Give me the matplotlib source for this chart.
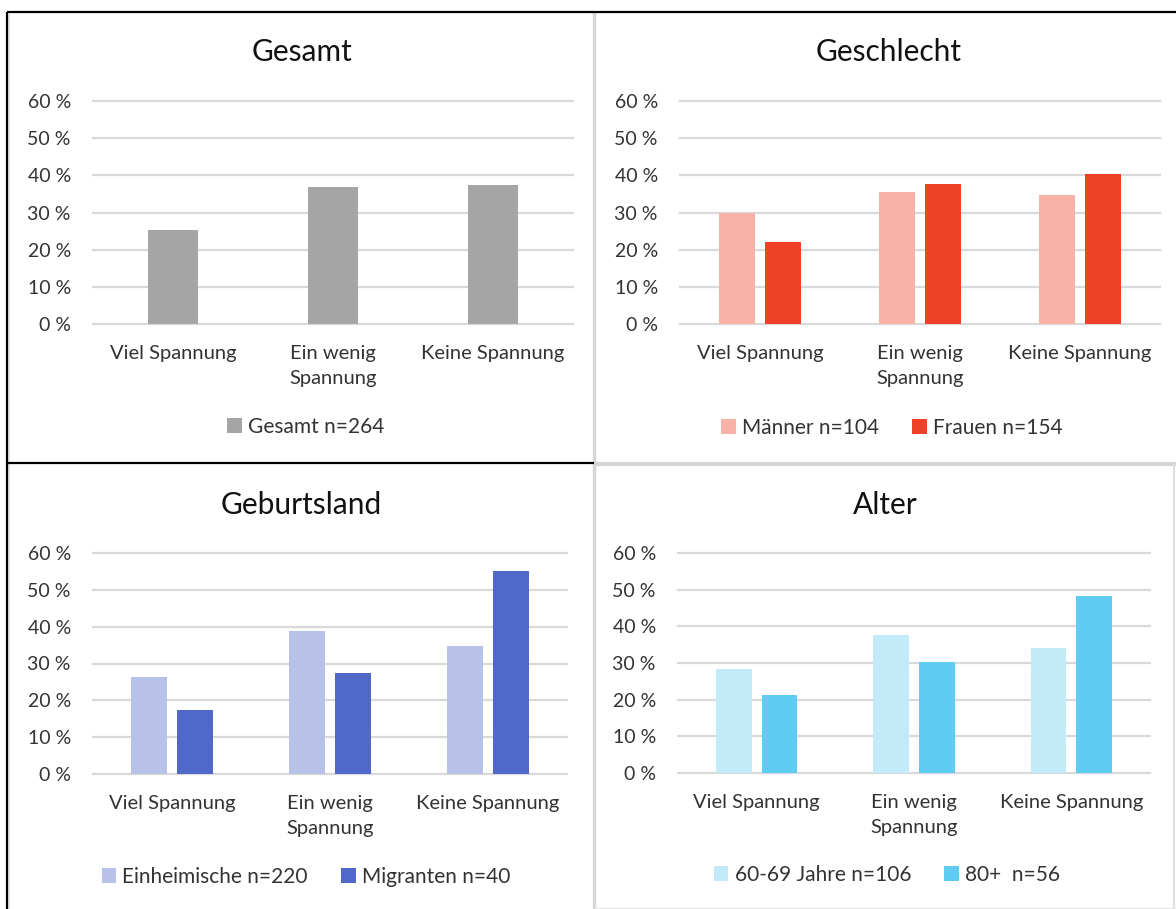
"""Spannung nach Gesamt, Geschlecht, Geburtsland und Alter (4 Teilgrafiken)."""

import matplotlib
matplotlib.use("Agg")
import matplotlib.pyplot as plt
from matplotlib.lines import Line2D
from matplotlib.patches import Patch

plt.rcParams.update(
    {
        "font.family": ["Lato", "DejaVu Sans"],
        "font.size": 14,
        "axes.linewidth": 0,
    }
)

W, H = 1176, 909

categories = ["Viel Spannung", "Ein wenig\nSpannung", "Keine Spannung"]
yticks = [0, 10, 20, 30, 40, 50, 60]

gesamt = [25.4, 36.9, 37.5]

maenner = [29.8, 35.6, 34.6]
frauen = [22.1, 37.7, 40.3]

einheimische = [26.4, 38.8, 34.8]
migranten = [17.5, 27.5, 55.0]

alter_60_69 = [28.3, 37.7, 34.0]
alter_80 = [21.4, 30.4, 48.2]

TEXT = "#333333"
GRID = "#d9d9d9"


def px_axes(fig, x0, x1, y_top, y_bot):
    return fig.add_axes([x0 / W, 1 - y_bot / H, (x1 - x0) / W, (y_bot - y_top) / H])


def panel(fig, box, title, title_xy, series, legend_xy):
    ax = px_axes(fig, *box)
    ax.set_xlim(0, 3)
    ax.set_ylim(0, 60)
    for y in yticks:
        ax.axhline(y, color=GRID, lw=1.6, zorder=0, clip_on=False)
    x = [0.5, 1.5, 2.5]
    n = len(series)
    if n == 1:
        width, offsets = 0.31, [0.0]
    else:
        width, gap = 0.225, 0.065
        offsets = [-(width + gap) / 2, (width + gap) / 2]
    handles = []
    for (label, values, color), off in zip(series, offsets):
        ax.bar([xi + off for xi in x], values, width=width, color=color, zorder=2)
        handles.append(Patch(facecolor=color, label=label))
    ax.set_yticks(yticks)
    ax.set_yticklabels([f"{v} %" for v in yticks])
    ax.set_xticks(x)
    ax.set_xticklabels(categories)
    for lab in ax.get_xticklabels():
        lab.set_linespacing(1.6)
        lab.set_verticalalignment("top")
    ax.tick_params(axis="y", length=0, pad=16, labelsize=14, colors=TEXT)
    ax.tick_params(axis="x", length=0, pad=15, labelsize=14.5, colors=TEXT)
    for s in ax.spines.values():
        s.set_visible(False)
    fig.text(title_xy[0] / W, 1 - title_xy[1] / H, title, ha="center", va="center",
             fontsize=21.5, color="#111111")
    fig.legend(handles=handles, loc="center", ncol=n,
               bbox_to_anchor=(legend_xy[0] / W, 1 - legend_xy[1] / H),
               frameon=False, fontsize=15, handlelength=0.7, handleheight=0.7,
               handletextpad=0.3, columnspacing=1.6, labelcolor=TEXT)
    return ax


def frame_line(fig, xs, ys, color, lw):
    fig.add_artist(Line2D([x / W for x in xs], [1 - y / H for y in ys],
                          color=color, lw=lw, solid_capstyle="butt"))


fig = plt.figure(figsize=(W / 100, H / 100), dpi=100)

panel(fig, (93, 573, 101, 324), "Gesamt", (302, 52),
      [("Gesamt n=264", gesamt, "#a5a5a5")], (306, 427))
panel(fig, (680, 1160, 101, 324), "Geschlecht", (889, 52),
      [("Männer n=104", maenner, "#f8b2a7"), ("Frauen n=154", frauen, "#ee4125")],
      (892, 428))
panel(fig, (93, 567, 553, 774), "Geburtsland", (301, 505),
      [("Einheimische n=220", einheimische, "#b8c2e8"), ("Migranten n=40", migranten, "#5068c8")],
      (306, 877))
panel(fig, (678, 1150, 553, 773), "Alter", (885, 505),
      [("60-69 Jahre n=106", alter_60_69, "#c2eaf8"), ("80+  n=56", alter_80, "#5fcdf3")],
      (887, 875))

# panel frames
frame_line(fig, (594, 594), (12, 909), "#d6d6d6", 2.4)
frame_line(fig, (594, 1176), (464, 464), "#d6d6d6", 3.0)
frame_line(fig, (1174, 1174), (464, 909), "#e0e0e0", 1.5)
frame_line(fig, (594, 1176), (907.5, 907.5), "#e6e6e6", 1.0)
frame_line(fig, (9, 9), (14, 909), "#e6e6e6", 1.5)
frame_line(fig, (7, 1176), (12, 12), "black", 1.6)
frame_line(fig, (7, 7), (12, 909), "black", 1.6)
frame_line(fig, (7, 594), (463, 463), "black", 1.6)

fig.savefig("out.png", dpi=100)
